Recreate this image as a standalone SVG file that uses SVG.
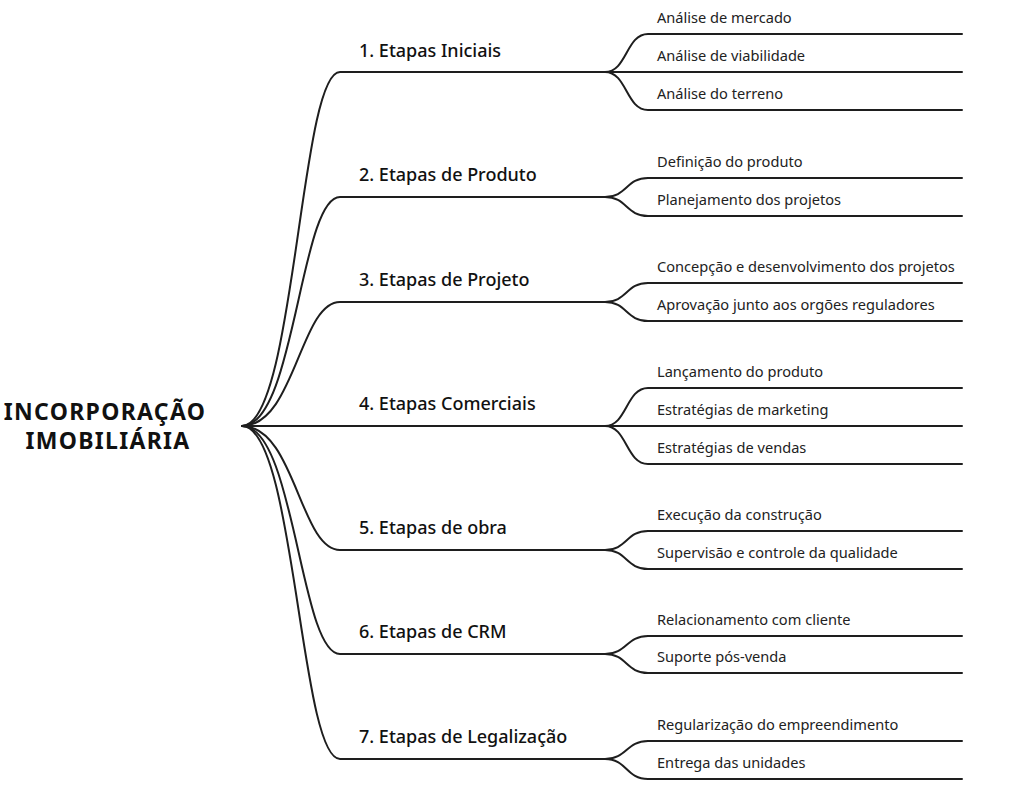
<svg xmlns="http://www.w3.org/2000/svg" width="1012" height="786" viewBox="0 0 1012 786">
<style>
.e{fill:none;stroke:#1e1e1e;stroke-width:2;stroke-linecap:round}
.root{font-family:"Noto Sans",sans-serif;font-weight:700;font-size:23px;letter-spacing:1.3px;fill:#111;text-anchor:middle}
.l1{font-family:"Noto Sans",sans-serif;font-weight:500;font-size:18px;fill:#111}
.l2{font-family:"Noto Sans",sans-serif;font-size:14.6px;fill:#222}
</style>
<rect width="1012" height="786" fill="#fff"/>
<g id="connectors">
<path class="e" d="M242 426 C295 426 300 72 340 72 H605"/>
<path class="e" d="M242 426 C295 426 300 197 340 197 H605"/>
<path class="e" d="M242 426 C295 426 300 302 340 302 H605"/>
<path class="e" d="M242 426 H605"/>
<path class="e" d="M242 426 C295 426 300 550 340 550 H605"/>
<path class="e" d="M242 426 C295 426 300 654 340 654 H605"/>
<path class="e" d="M242 426 C295 426 300 759 340 759 H605"/>
<path class="e" d="M605 72 C627 72 626 34 648 34 H962"/>
<path class="e" d="M605 72 H962"/>
<path class="e" d="M605 72 C627 72 626 110 648 110 H962"/>
<path class="e" d="M605 197 C627 197 626 178 648 178 H962"/>
<path class="e" d="M605 197 C627 197 626 216 648 216 H962"/>
<path class="e" d="M605 302 C627 302 626 283 648 283 H962"/>
<path class="e" d="M605 302 C627 302 626 321 648 321 H962"/>
<path class="e" d="M605 426 C627 426 626 388 648 388 H962"/>
<path class="e" d="M605 426 H962"/>
<path class="e" d="M605 426 C627 426 626 464 648 464 H962"/>
<path class="e" d="M605 550 C627 550 626 531 648 531 H962"/>
<path class="e" d="M605 550 C627 550 626 569 648 569 H962"/>
<path class="e" d="M605 654 C627 654 626 636 648 636 H962"/>
<path class="e" d="M605 654 C627 654 626 673 648 673 H962"/>
<path class="e" d="M605 759 C627 759 626 741 648 741 H962"/>
<path class="e" d="M605 759 C627 759 626 779 648 779 H962"/>
</g>
<g id="root"><text class="root" x="105" y="420">INCORPORAÇÃO</text><text class="root" x="108" y="449">IMOBILIÁRIA</text></g>
<g id="n1"><text class="l1" x="359" y="57">1. Etapas Iniciais</text></g>
<g id="n2"><text class="l1" x="359" y="181">2. Etapas de Produto</text></g>
<g id="n3"><text class="l1" x="359" y="286">3. Etapas de Projeto</text></g>
<g id="n4"><text class="l1" x="359" y="410">4. Etapas Comerciais</text></g>
<g id="n5"><text class="l1" x="359" y="534">5. Etapas de obra</text></g>
<g id="n6"><text class="l1" x="359" y="638">6. Etapas de CRM</text></g>
<g id="n7"><text class="l1" x="359" y="743">7. Etapas de Legalização</text></g>
<g id="n1a"><text class="l2" x="657" y="23">Análise de mercado</text></g>
<g id="n1b"><text class="l2" x="657" y="61">Análise de viabilidade</text></g>
<g id="n1c"><text class="l2" x="657" y="99">Análise do terreno</text></g>
<g id="n2a"><text class="l2" x="657" y="167">Definição do produto</text></g>
<g id="n2b"><text class="l2" x="657" y="205">Planejamento dos projetos</text></g>
<g id="n3a"><text class="l2" x="657" y="272">Concepção e desenvolvimento dos projetos</text></g>
<g id="n3b"><text class="l2" x="657" y="310">Aprovação junto aos orgões reguladores</text></g>
<g id="n4a"><text class="l2" x="657" y="377">Lançamento do produto</text></g>
<g id="n4b"><text class="l2" x="657" y="415">Estratégias de marketing</text></g>
<g id="n4c"><text class="l2" x="657" y="453">Estratégias de vendas</text></g>
<g id="n5a"><text class="l2" x="657" y="520">Execução da construção</text></g>
<g id="n5b"><text class="l2" x="657" y="558">Supervisão e controle da qualidade</text></g>
<g id="n6a"><text class="l2" x="657" y="625">Relacionamento com cliente</text></g>
<g id="n6b"><text class="l2" x="657" y="662">Suporte pós-venda</text></g>
<g id="n7a"><text class="l2" x="657" y="730">Regularização do empreendimento</text></g>
<g id="n7b"><text class="l2" x="657" y="768">Entrega das unidades</text></g>
</svg>
